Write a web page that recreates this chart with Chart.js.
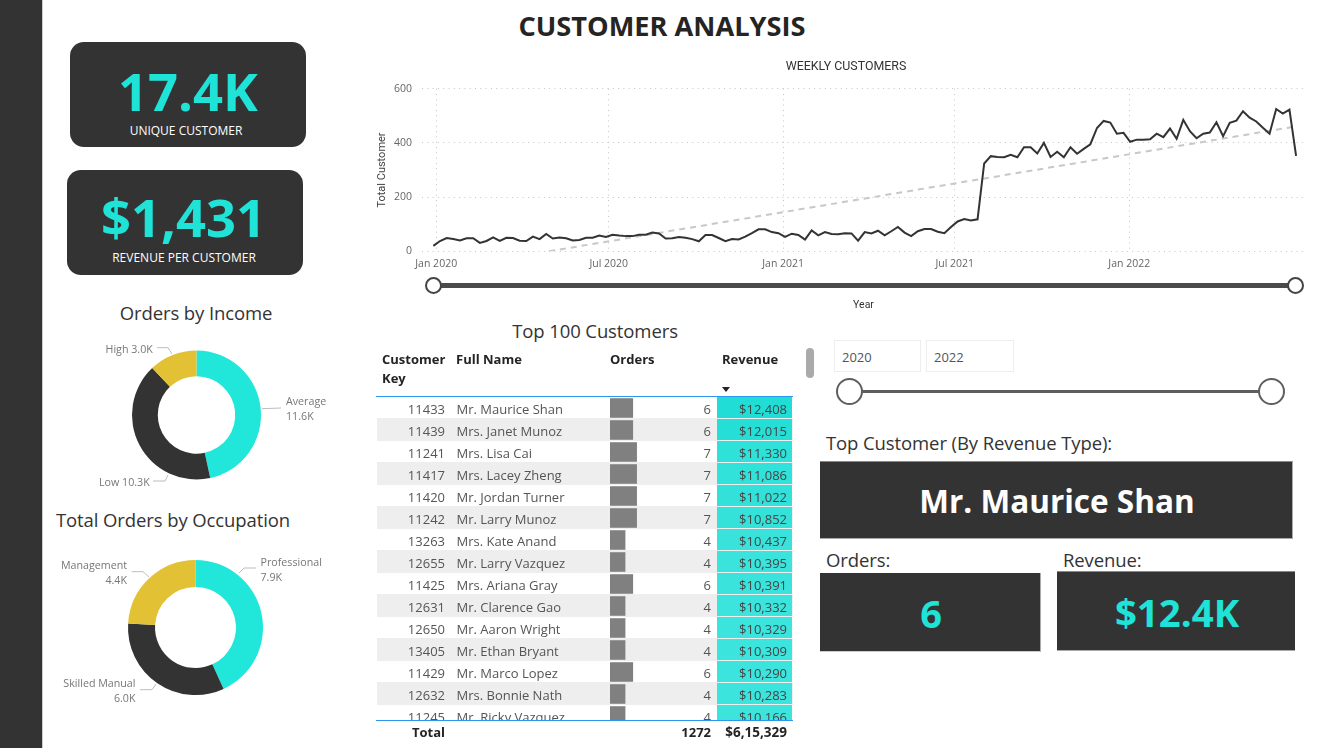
<!DOCTYPE html>
<html><head><meta charset="utf-8">
<script src="https://cdn.jsdelivr.net/npm/chart.js@4"></script>
<style>
html,body{margin:0;padding:0;background:#fff;overflow:hidden}
body{width:1335px;height:748px;position:relative;font-family:"Open Sans",sans-serif;color:#333}
.a{position:absolute;white-space:nowrap}
.c{transform:translateX(-50%)}
.m{transform:translateY(-50%)}
.mc{transform:translate(-50%,-50%)}
.box{position:absolute;background:#333}
.h{font-size:18.5px;color:#333;letter-spacing:-.1px}
.teal{color:#20e3d8;font-weight:700}
canvas{position:absolute}
#rows{position:absolute;left:377px;top:397px;width:416px;height:323px;overflow:hidden}
.row{position:absolute;left:0;width:416px;height:22px;font-size:13px;color:#555;line-height:24px}
.row span{position:absolute;white-space:nowrap}
.th{position:absolute;font-size:13px;font-weight:700;color:#252423;line-height:19px}
.knob{position:absolute;background:#fff;border-radius:50%;box-sizing:border-box}
</style></head><body>
<div class="box" style="left:0;top:0;width:42px;height:748px;border-right:1px solid #ccc"></div>
<div class="a mc" style="left:662px;top:25px;font-size:27.2px;font-weight:700;color:#252423">CUSTOMER ANALYSIS</div>

<div class="box" style="left:70px;top:42px;width:236px;height:105px;border-radius:14px"></div>
<div class="a mc teal" style="left:188px;top:90px;font-size:52.5px">17.4K</div>
<div class="a mc" style="left:186px;top:130px;font-size:12px;color:#fff">UNIQUE CUSTOMER</div>
<div class="box" style="left:67px;top:170px;width:236px;height:105px;border-radius:14px"></div>
<div class="a mc teal" style="left:183.5px;top:216px;font-size:52.5px">$1,431</div>
<div class="a mc" style="left:184px;top:257px;font-size:12px;color:#fff">REVENUE PER CUSTOMER</div>

<div class="a mc h" style="left:196px;top:312px">Orders by Income</div>
<div class="a m h" style="left:56px;top:519px">Total Orders by Occupation</div>
<canvas id="income" width="293" height="160" style="left:50px;top:335px"></canvas>
<canvas id="occupation" width="291" height="161" style="left:50px;top:547px"></canvas>

<canvas id="weekly" width="952" height="262" style="left:370px;top:50px"></canvas>
<div class="a" style="left:433px;top:283px;width:863px;height:5px;background:#4a4a4a"></div>
<div class="knob" style="left:425px;top:277px;width:17px;height:17px;border:2px solid #444"></div>
<div class="knob" style="left:1287px;top:277px;width:17px;height:17px;border:2px solid #444"></div>

<div class="a mc h" style="left:595px;top:330px">Top 100 Customers</div>
<div class="th" style="left:382px;top:350px">Customer<br>Key</div>
<div class="th" style="left:456px;top:350px">Full Name</div>
<div class="th" style="left:610px;top:350px">Orders</div>
<div class="th" style="left:722px;top:350px">Revenue</div>
<div class="a" style="left:722px;top:387px;width:0;height:0;border-left:4.5px solid transparent;border-right:4.5px solid transparent;border-top:5px solid #252423"></div>
<div class="a" style="left:376px;top:396px;width:417px;height:1px;background:#2f96ee"></div>
<div id="rows"><canvas id="bars" width="77" height="330" style="left:233px;top:0;z-index:2"></canvas></div>
<div class="a" style="left:376px;top:720px;width:417px;height:1px;background:#2f96ee"></div>
<div class="a" id="totL" style="right:890px;top:722px;font-size:13px;font-weight:700;color:#252423;line-height:20px">Total</div>
<div class="a" id="totO" style="right:624px;top:722px;font-size:13px;font-weight:700;color:#252423;line-height:20px"></div>
<div class="a" id="totR" style="right:548px;top:722px;font-size:13.5px;font-weight:700;color:#252423;line-height:20px"></div>
<div class="a" style="left:806px;top:348px;width:8px;height:30px;background:#aaa;border-radius:4px"></div>

<div class="a" style="left:834px;top:340px;width:85px;height:30px;border:1px solid #eee"></div>
<div class="a" style="left:926px;top:340px;width:86px;height:30px;border:1px solid #eee"></div>
<div class="a m" style="left:842px;top:357px;font-size:13px;color:#555">2020</div>
<div class="a m" style="left:934px;top:357px;font-size:13px;color:#555">2022</div>
<div class="a" style="left:850px;top:390px;width:422px;height:3px;background:#605e5c"></div>
<div class="knob" style="left:836px;top:378px;width:27px;height:27px;border:2px solid #605e5c"></div>
<div class="knob" style="left:1258px;top:378px;width:27px;height:27px;border:2px solid #605e5c"></div>

<div class="a m h" style="left:826px;top:442px">Top Customer (By Revenue Type):</div>
<div class="box" style="left:820px;top:461px;width:473px;height:78px;border-top:1px solid #888;border-bottom:1px solid #aaa;border-right:1px solid #aaa;box-sizing:border-box"></div>
<div class="a mc" style="left:1057px;top:500px;font-size:31.5px;font-weight:700;color:#fff">Mr. Maurice Shan</div>
<div class="a m h" style="left:826px;top:559px">Orders:</div>
<div class="a m h" style="left:1063px;top:559px">Revenue:</div>
<div class="box" style="left:820px;top:573px;width:221px;height:79px;border-right:1px solid #aaa;border-bottom:1px solid #ccc;box-sizing:border-box"></div>
<div class="box" style="left:1057px;top:571px;width:238px;height:80px;border-top:1px solid #888;border-bottom:1px solid #aaa;box-sizing:border-box"></div>
<div class="a mc teal" style="left:931px;top:613px;font-size:38px">6</div>
<div class="a mc teal" style="left:1177px;top:612px;font-size:38.4px">$12.4K</div>

<script>
// ---------- data ----------
const firstWeek = '2019-12-29';
const customers = [20,38,49,45,40,48,48,31,38,51,38,50,49,39,38,54,45,64,47,51,48,40,42,50,50,58,53,61,58,56,56,61,61,69,66,47,48,53,50,45,37,60,60,49,37,45,44,54,67,81,81,71,67,53,65,60,43,77,59,71,64,63,67,66,39,71,66,76,59,74,90,69,56,74,82,82,72,67,90,110,119,114,118,324,351,348,347,356,347,384,384,361,400,348,367,347,384,360,378,395,455,481,475,434,437,404,412,412,413,434,421,453,415,485,443,417,434,438,476,425,474,482,517,493,479,456,434,525,508,523,352];
const trendDates = ['2020-04-29','2022-06-26'];
const trendValues = [0,461];
const tickDates = ['2020-01-01','2020-07-01','2021-01-01','2021-07-01','2022-01-01'];
const tickLabels = ['Jan 2020','Jul 2020','Jan 2021','Jul 2021','Jan 2022'];
const valueTicks = [0,200,400,600];

const incomeLabels = ['Average','Low','High'];
const incomeValues = [11.6,10.3,3.0];
const occupationLabels = ['Professional','Skilled Manual','Management'];
const occupationValues = [7.9,6.0,4.4];

const keys = [11433,11439,11241,11417,11420,11242,13263,12655,11425,12631,12650,13405,11429,12632,11245];
const names = ['Mr. Maurice Shan','Mrs. Janet Munoz','Mrs. Lisa Cai','Mrs. Lacey Zheng','Mr. Jordan Turner','Mr. Larry Munoz','Mrs. Kate Anand','Mr. Larry Vazquez','Mrs. Ariana Gray','Mr. Clarence Gao','Mr. Aaron Wright','Mr. Ethan Bryant','Mr. Marco Lopez','Mrs. Bonnie Nath','Mr. Ricky Vazquez'];
const orders = [6,6,7,7,7,7,4,4,6,4,4,4,6,4,4];
const revenue = [12408,12015,11330,11086,11022,10852,10437,10395,10391,10332,10329,10309,10290,10283,10166];
const totalOrders = '1272';
const totalRevenue = '$6,15,329';

// ---------- colours ----------
const TEAL='#21e6da', DARK='#333333', YELLOW='#e2c134';
const DAY=86400000;
const dayOf=s=>(Date.parse(s)-Date.parse(firstWeek))/DAY;

// ---------- weekly line ----------
new Chart(document.getElementById('weekly'),{
  type:'line',
  data:{datasets:[
    {data:customers.map((v,i)=>({x:i*7,y:v})),borderColor:'#333',borderWidth:2,pointRadius:0,tension:0},
    {data:trendDates.map((d,i)=>({x:dayOf(d),y:trendValues[i]})),borderColor:'#c8c8c8',borderWidth:2,borderDash:[6,5],pointRadius:0,tension:0}
  ]},
  options:{
    responsive:false,animation:false,
    plugins:{legend:{display:false},tooltip:{enabled:false},
      title:{display:true,text:'WEEKLY CUSTOMERS',color:'#333',font:{family:'Roboto',size:12.4,weight:'400'},padding:{top:9.5,bottom:14.3}}},
    scales:{
      x:{type:'linear',min:-12,max:919.4,
        afterBuildTicks:s=>{s.ticks=tickDates.map(d=>({value:dayOf(d)}));},
        afterFit:s=>{s.height=60.7;},
        ticks:{autoSkip:false,maxRotation:0,padding:6,color:'#666',font:{family:'Open Sans',size:10.5},
          callback:v=>tickLabels[tickDates.findIndex(d=>dayOf(d)===v)]},
        grid:{color:'#c4c4c4',lineWidth:1,drawTicks:false},
        border:{display:false,dash:[1,4.3]},
        title:{display:true,text:'Year',color:'#333',font:{family:'Roboto',size:10.5},padding:{top:0,bottom:0}}
      },
      y:{min:0,max:600,
        afterBuildTicks:s=>{s.ticks=valueTicks.map(v=>({value:v}));},
        afterFit:s=>{s.width=52;},
        ticks:{padding:10,color:'#666',font:{family:'Open Sans',size:10.5}},
        grid:{color:'#c4c4c4',lineWidth:1,drawTicks:false},
        border:{display:false,dash:[1,4.3]},
        title:{display:true,text:'Total Customer',color:'#444',font:{family:'Roboto',size:11},padding:{top:6,bottom:0}}
      },
      gutter:{position:'right',min:0,max:1,grid:{display:false},border:{display:false},ticks:{display:false},afterFit:s=>{s.width=17;}}
    }
  }
});

// ---------- doughnuts ----------
const leaderPlugin={id:'leaders',afterDraw(ch,a,opts){
  const c=ch.ctx,o=opts.origin;
  c.save();
  opts.items.forEach(it=>{
    c.strokeStyle='#bdbdbd';c.lineWidth=1;c.beginPath();
    it.path.forEach((p,i)=>{const x=p[0]-o[0],y=p[1]-o[1];i?c.lineTo(x,y):c.moveTo(x,y);});
    c.stroke();
    c.fillStyle='#777';c.font='10.7px "Open Sans"';c.textAlign=it.align;c.textBaseline='middle';
    it.lines.forEach(l=>c.fillText(l[0],it.x-o[0],l[1]-o[1]+1));
  });
  c.restore();
}};
const fmt=v=>v.toFixed(1)+'K';
function donut(id,labels,values,radius,cutout,origin,items){
  new Chart(document.getElementById(id),{
    type:'doughnut',
    data:{labels,datasets:[{data:values,backgroundColor:[TEAL,DARK,YELLOW],borderWidth:0}]},
    options:{responsive:false,animation:false,radius,cutout,
      plugins:{legend:{display:false},tooltip:{enabled:false},leaders:{origin,items}}},
    plugins:[leaderPlugin]
  });
}
donut('income',incomeLabels,incomeValues,64.5,'60%',[50,335],[
  {path:[[262,408.7],[281,408]],align:'left',x:286,lines:[[incomeLabels[0],401],[fmt(incomeValues[0]),416]]},
  {path:[[153,481],[165,481],[168,475]],align:'left',x:99,lines:[[incomeLabels[1]+' '+fmt(incomeValues[1]),481.5]]},
  {path:[[157,347.7],[168,347.7],[172,354]],align:'left',x:105.5,lines:[[incomeLabels[2]+' '+fmt(incomeValues[2]),349]]}
]);
donut('occupation',occupationLabels,occupationValues,67.5,'60%',[50,547],[
  {path:[[239,573],[244,568],[256,568]],align:'left',x:260.5,lines:[[occupationLabels[0],562],[fmt(occupationValues[0]),577]]},
  {path:[[140,689.7],[152,689.7],[156,684]],align:'right',x:135.5,lines:[[occupationLabels[1],683],[fmt(occupationValues[1]),698]]},
  {path:[[131.7,571.7],[143,571.7],[149,577]],align:'right',x:127,lines:[[occupationLabels[2],565],[fmt(occupationValues[2]),580]]}
]);

// ---------- table ----------
const rowsEl=document.getElementById('rows');
const maxR=Math.max(...revenue),minR=Math.min(...revenue);
keys.forEach((k,i)=>{
  const r=document.createElement('div');r.className='row';r.style.top=(i*22)+'px';
  if(i%2)r.style.background='#eeeeee';else r.style.boxShadow='inset 0 -1px 0 #eee';
  const t=(revenue[i]-minR)/(maxR-minR);
  const g=Math.round(228-6*t),rd=Math.round(61-29*t),b=Math.round(220-6*t);
  const money='$'+revenue[i].toLocaleString('en-US');
  r.innerHTML=`<span style="right:348px">${k}</span><span style="left:79.5px">${names[i]}</span>`+
    `<span style="right:82px">${orders[i]}</span>`+
    `<span style="left:340px;top:0;width:75px;height:21px;background:rgb(${rd},${g},${b})"></span>`+
    `<span style="right:6px;color:#444">${money}</span>`;
  rowsEl.appendChild(r);
});
document.getElementById('totO').textContent=totalOrders;
document.getElementById('totR').textContent=totalRevenue;
new Chart(document.getElementById('bars'),{
  type:'bar',
  data:{labels:keys.map(String),datasets:[{data:orders,backgroundColor:'#808080',borderWidth:0,categoryPercentage:1,barPercentage:.89}]},
  options:{indexAxis:'y',responsive:false,animation:false,
    plugins:{legend:{display:false},tooltip:{enabled:false}},
    scales:{x:{display:false,min:0,max:20},y:{display:false}}}
});
</script>
</body></html>
